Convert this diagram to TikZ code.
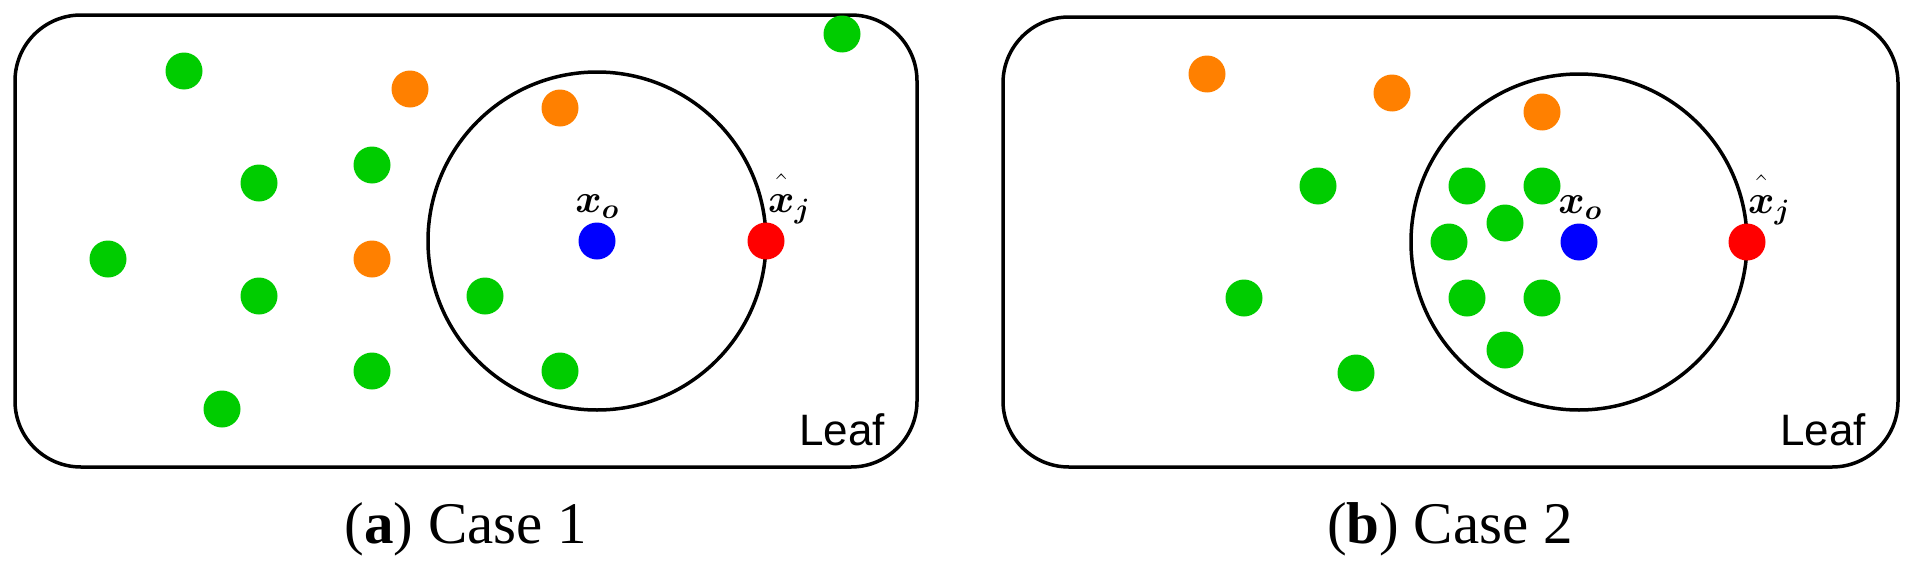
\RequirePackage{fix-cm}
\documentclass[tikz,border=0pt]{standalone}
\usepackage{amsmath,bm}
\usepackage{fontspec}
\newfontfamily\leaffont{Liberation Sans}
\newfontfamily\capfont{Liberation Serif}
\definecolor{dgreen}{RGB}{0,204,0}
\definecolor{dorange}{RGB}{255,128,0}
\definecolor{dblue}{RGB}{0,0,255}
\definecolor{dred}{RGB}{255,0,0}
\begin{document}
\begin{tikzpicture}[x=1pt,y=-1pt,
  dot/.style={circle,inner sep=0pt,minimum size=37pt},
  gd/.style={dot,fill=dgreen},
  od/.style={dot,fill=dorange},
  bd/.style={dot,fill=dblue},
  rd/.style={dot,fill=dred},
  leafbox/.style={draw,line width=3.5pt,rounded corners=66pt},
  ring/.style={draw,line width=3.5pt},
  leaflbl/.style={font=\leaffont\fontsize{44}{50}\selectfont,inner sep=0pt,anchor=base},
  mathlbl/.style={font=\fontsize{40}{46}\selectfont,inner sep=0pt},
  caplbl/.style={font=\capfont\fontsize{59}{66}\selectfont,inner sep=0pt,anchor=base}]
\useasboundingbox (0,0) rectangle (1908,562);
% ---------- panel (a)
\draw[leafbox] (15,15) rectangle (917,467);
\draw[ring] (597,241) circle (169);
\node[gd] (a1) at (184,71) {};
\node[od] (a2) at (410,89) {};
\node[od] (a3) at (560,108) {};
\node[gd] (a4) at (372,165) {};
\node[gd] (a5) at (259,183) {};
\node[gd] (a6) at (108,259) {};
\node[od] (a7) at (372,259) {};
\node[gd] (a8) at (259,296) {};
\node[gd] (a9) at (485,296) {};
\node[gd] (a10) at (372,371) {};
\node[gd] (a11) at (560,371) {};
\node[gd] (a12) at (222,409) {};
\node[gd] (a13) at (842,34) {};
\node[bd] (ao) at (597,241) {};
\node[rd] (aj) at (766,241) {};
\node[mathlbl,anchor=base] (aol) at (597,212) {$\bm{x}_{\bm{o}}$};
\node[mathlbl,anchor=base west] (ajl) at (768,212) {$\hat{\bm{x}\vphantom{X}}_{\bm{j}}$};
\node[leaflbl] (aleaf) at (842,445) {Leaf};
\node[caplbl] (acap) at (466,543) {(\textbf{a}) Case 1};
% ---------- panel (b)
\draw[leafbox] (1003,17) rectangle (1898,467);
\draw[ring] (1579,242) circle (168);
\node[od] (b1) at (1207,74) {};
\node[od] (b2) at (1392,93) {};
\node[od] (b3) at (1542,112) {};
\node[gd] (b4) at (1318,186) {};
\node[gd] (b5) at (1467,186) {};
\node[gd] (b6) at (1542,186) {};
\node[gd] (b7) at (1505,223) {};
\node[gd] (b8) at (1449,242) {};
\node[gd] (b9) at (1244,298) {};
\node[gd] (b10) at (1467,298) {};
\node[gd] (b11) at (1542,298) {};
\node[gd] (b12) at (1505,350) {};
\node[gd] (b13) at (1356,373) {};
\node[bd] (bo) at (1579,242) {};
\node[rd] (bj) at (1747,242) {};
\node[mathlbl,anchor=base] (bol) at (1580,213) {$\bm{x}_{\bm{o}}$};
\node[mathlbl,anchor=base west] (bjl) at (1748,213) {$\hat{\bm{x}\vphantom{X}}_{\bm{j}}$};
\node[leaflbl] (bleaf) at (1823,445) {Leaf};
\node[caplbl] (bcap) at (1450,543) {(\textbf{b}) Case 2};
\end{tikzpicture}
\end{document}
